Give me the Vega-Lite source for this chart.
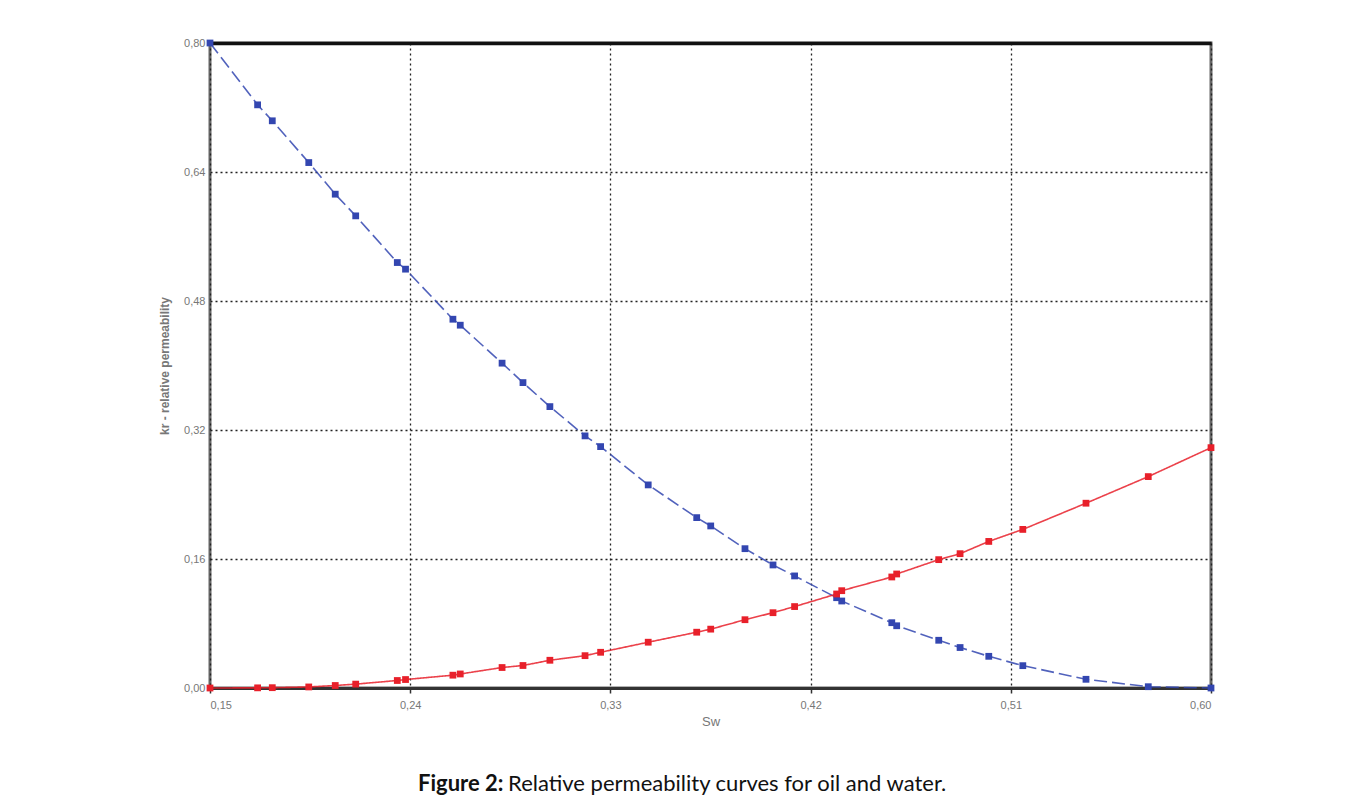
{
  "$schema": "https://vega.github.io/schema/vega-lite/v6.json",
  "autosize": "none",
  "width": 1001,
  "height": 645,
  "padding": {"left": 210, "top": 43, "right": 151, "bottom": 115},
  "background": "white",
  "title": {
    "text": "Figure 2:",
    "subtitle": "\u200b\u00a0\u00a0\u00a0\u00a0\u00a0\u00a0\u00a0\u00a0\u00a0\u00a0\u00a0\u00a0\u00a0\u00a0\u00a0\u00a0Relative permeability curves for oil and water.",
    "orient": "bottom",
    "anchor": "start",
    "frame": "group",
    "dx": 208,
    "offset": 46,
    "font": "Lato",
    "fontSize": 22,
    "fontWeight": "bold",
    "color": "#111111",
    "subtitleFont": "Lato",
    "subtitleFontSize": 22,
    "subtitleFontWeight": "normal",
    "subtitleColor": "#111111",
    "subtitlePadding": -22
  },
  "data": {
    "values": [
      {"Sw": 0.1500, "kr": 0.800, "phase": "oil"},
      {"Sw": 0.1714, "kr": 0.7233, "phase": "oil"},
      {"Sw": 0.1780, "kr": 0.7035, "phase": "oil"},
      {"Sw": 0.1944, "kr": 0.6517, "phase": "oil"},
      {"Sw": 0.2063, "kr": 0.6125, "phase": "oil"},
      {"Sw": 0.2155, "kr": 0.5856, "phase": "oil"},
      {"Sw": 0.2342, "kr": 0.5277, "phase": "oil"},
      {"Sw": 0.2379, "kr": 0.5195, "phase": "oil"},
      {"Sw": 0.2592, "kr": 0.4574, "phase": "oil"},
      {"Sw": 0.2625, "kr": 0.4500, "phase": "oil"},
      {"Sw": 0.2813, "kr": 0.4029, "phase": "oil"},
      {"Sw": 0.2907, "kr": 0.3788, "phase": "oil"},
      {"Sw": 0.3028, "kr": 0.3490, "phase": "oil"},
      {"Sw": 0.3186, "kr": 0.3127, "phase": "oil"},
      {"Sw": 0.3256, "kr": 0.2994, "phase": "oil"},
      {"Sw": 0.3470, "kr": 0.2519, "phase": "oil"},
      {"Sw": 0.3688, "kr": 0.2113, "phase": "oil"},
      {"Sw": 0.3751, "kr": 0.2010, "phase": "oil"},
      {"Sw": 0.3905, "kr": 0.1728, "phase": "oil"},
      {"Sw": 0.4031, "kr": 0.1526, "phase": "oil"},
      {"Sw": 0.4128, "kr": 0.1390, "phase": "oil"},
      {"Sw": 0.4317, "kr": 0.1120, "phase": "oil"},
      {"Sw": 0.4340, "kr": 0.1079, "phase": "oil"},
      {"Sw": 0.4565, "kr": 0.0810, "phase": "oil"},
      {"Sw": 0.4587, "kr": 0.0772, "phase": "oil"},
      {"Sw": 0.4776, "kr": 0.0592, "phase": "oil"},
      {"Sw": 0.4872, "kr": 0.0502, "phase": "oil"},
      {"Sw": 0.5001, "kr": 0.0393, "phase": "oil"},
      {"Sw": 0.5154, "kr": 0.0277, "phase": "oil"},
      {"Sw": 0.5438, "kr": 0.0108, "phase": "oil"},
      {"Sw": 0.5718, "kr": 0.0016, "phase": "oil"},
      {"Sw": 0.6000, "kr": 0.0000, "phase": "oil"},
      {"Sw": 0.1500, "kr": 0.0000, "phase": "water"},
      {"Sw": 0.1714, "kr": 0.0002, "phase": "water"},
      {"Sw": 0.1780, "kr": 0.0004, "phase": "water"},
      {"Sw": 0.1944, "kr": 0.0013, "phase": "water"},
      {"Sw": 0.2063, "kr": 0.0031, "phase": "water"},
      {"Sw": 0.2155, "kr": 0.0048, "phase": "water"},
      {"Sw": 0.2342, "kr": 0.0093, "phase": "water"},
      {"Sw": 0.2379, "kr": 0.0105, "phase": "water"},
      {"Sw": 0.2592, "kr": 0.0159, "phase": "water"},
      {"Sw": 0.2625, "kr": 0.0174, "phase": "water"},
      {"Sw": 0.2813, "kr": 0.0254, "phase": "water"},
      {"Sw": 0.2907, "kr": 0.0279, "phase": "water"},
      {"Sw": 0.3028, "kr": 0.0344, "phase": "water"},
      {"Sw": 0.3186, "kr": 0.0401, "phase": "water"},
      {"Sw": 0.3256, "kr": 0.0443, "phase": "water"},
      {"Sw": 0.3470, "kr": 0.0568, "phase": "water"},
      {"Sw": 0.3688, "kr": 0.0692, "phase": "water"},
      {"Sw": 0.3751, "kr": 0.0730, "phase": "water"},
      {"Sw": 0.3905, "kr": 0.0847, "phase": "water"},
      {"Sw": 0.4031, "kr": 0.0934, "phase": "water"},
      {"Sw": 0.4128, "kr": 0.1010, "phase": "water"},
      {"Sw": 0.4317, "kr": 0.1166, "phase": "water"},
      {"Sw": 0.4340, "kr": 0.1207, "phase": "water"},
      {"Sw": 0.4565, "kr": 0.1377, "phase": "water"},
      {"Sw": 0.4587, "kr": 0.1414, "phase": "water"},
      {"Sw": 0.4776, "kr": 0.1592, "phase": "water"},
      {"Sw": 0.4872, "kr": 0.1666, "phase": "water"},
      {"Sw": 0.5001, "kr": 0.1818, "phase": "water"},
      {"Sw": 0.5154, "kr": 0.1967, "phase": "water"},
      {"Sw": 0.5438, "kr": 0.2292, "phase": "water"},
      {"Sw": 0.5718, "kr": 0.2622, "phase": "water"},
      {"Sw": 0.6000, "kr": 0.2981, "phase": "water"}
    ]
  },
  "encoding": {
    "x": {
      "field": "Sw",
      "type": "quantitative",
      "scale": {"domain": [0.15, 0.6], "nice": false, "zero": false},
      "axis": {
        "title": "Sw",
        "values": [0.15, 0.24, 0.33, 0.42, 0.51, 0.6],
        "labelExpr": "replace(format(datum.value, '.2f'), '.', ',')",
        "domain": true,
        "domainColor": "#333333",
        "domainWidth": 3,
        "ticks": true,
        "tickSize": 5,
        "tickColor": "#333333",
        "tickWidth": 1.5,
        "labelPadding": 6,
        "labelFont": "Liberation Sans",
        "labelFontSize": 11,
        "labelColor": "#777777",
        "titleFont": "Liberation Sans",
        "titleFontSize": 13,
        "titleFontWeight": "normal",
        "titleColor": "#777777",
        "titlePadding": 5,
        "grid": true,
        "gridColor": "#222222",
        "gridDash": [2, 3],
        "gridWidth": 1.3
      }
    },
    "y": {
      "field": "kr",
      "type": "quantitative",
      "scale": {"domain": [0, 0.8], "nice": false},
      "axis": {
        "title": "kr - relative permeability",
        "values": [0, 0.16, 0.32, 0.48, 0.64, 0.8],
        "labelExpr": "replace(format(datum.value, '.2f'), '.', ',')",
        "domain": false,
        "ticks": false,
        "labelPadding": 5,
        "labelFont": "Liberation Sans",
        "labelFontSize": 11,
        "labelColor": "#777777",
        "titleFont": "Liberation Sans",
        "titleFontSize": 12,
        "titleFontWeight": "bold",
        "titleColor": "#777777",
        "titlePadding": 12,
        "grid": true,
        "gridColor": "#222222",
        "gridDash": [2, 3],
        "gridWidth": 1.3
      }
    },
    "color": {
      "field": "phase",
      "type": "nominal",
      "scale": {"domain": ["oil", "water"], "range": ["#3346b0", "#e8202a"]},
      "legend": null
    }
  },
  "layer": [
    {
      "mark": {"type": "line", "strokeWidth": 1.6, "opacity": 0.85},
      "encoding": {
        "strokeDash": {
          "field": "phase",
          "type": "nominal",
          "scale": {"domain": ["oil", "water"], "range": [[13, 5], [1, 0]]},
          "legend": null
        }
      }
    },
    {
      "mark": {"type": "point", "shape": "square", "filled": true, "size": 46, "opacity": 1},
      "encoding": {
        "x": {
          "field": "Sw",
          "type": "quantitative",
          "axis": {
            "orient": "top",
            "title": null,
            "labels": false,
            "ticks": false,
            "grid": false,
            "domain": true,
            "domainColor": "#111111",
            "domainWidth": 3.5
          }
        }
      }
    }
  ],
  "resolve": {"axis": {"x": "independent"}},
  "config": {
    "view": {"stroke": "#666666", "strokeWidth": 3},
    "axis": {"gridCap": "butt"}
  }
}
